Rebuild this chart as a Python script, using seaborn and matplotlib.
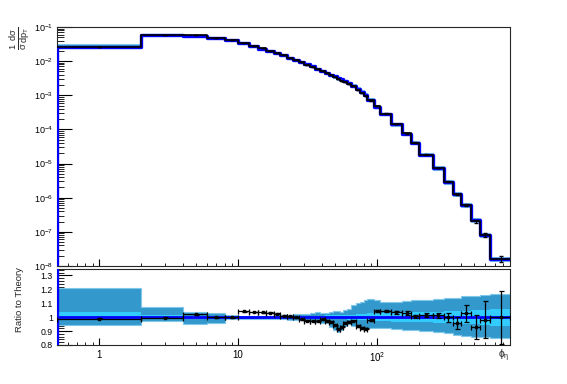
import numpy as np
import matplotlib
matplotlib.use("Agg")
import matplotlib.pyplot as plt
import matplotlib.ticker as mticker
import seaborn as sns

# Z pT binning (GeV); first bin starts at 0, shown from 0.5 on the log axis
pt_edges = [0, 2, 4, 6, 8, 10, 12, 14, 16, 18, 20, 22.5, 25, 27.5, 30, 33, 36, 39,
            42, 45, 48, 51, 54, 57, 61, 65, 70, 75, 80, 85, 95, 105, 125, 150, 175,
            200, 250, 300, 350, 400, 470, 550, 650, 900]

# theory prediction, 1/sigma dsigma/dpT
theory = [0.0265, 0.057, 0.056, 0.049, 0.041, 0.033, 0.027, 0.0232, 0.0198, 0.0170,
          0.0147, 0.0126, 0.0108, 0.0094, 0.0081, 0.0070, 0.0060, 0.0052, 0.0046,
          0.0040, 0.0036, 0.0032, 0.0029, 0.0026, 0.00225, 0.0019, 0.00155, 0.00125,
          0.00102, 0.00072, 0.00046, 0.00028, 0.00014, 7.4e-5, 4.1e-5, 1.8e-5,
          7.3e-6, 2.9e-6, 1.3e-6, 6.1e-7, 2.2e-7, 8.1e-8, 1.6e-8]

# data / theory
ratio = [0.988, 0.995, 1.02, 1.0, 1.0, 1.042, 1.037, 1.035, 1.032, 1.025, 1.012, 1.005,
         0.998, 0.985, 0.975, 0.973, 0.973, 0.985, 0.975, 0.968, 0.943, 0.918, 0.93,
         0.96, 0.968, 0.975, 0.936, 0.923, 0.918, 0.98, 1.047, 1.045, 1.035, 1.03,
         1.005, 1.015, 1.015, 1.0, 0.958, 1.027, 0.932, 0.983, 1.0]
ratio_err = [0.004, 0.003, 0.003, 0.003, 0.003, 0.003, 0.003, 0.003, 0.003, 0.003,
             0.003, 0.003, 0.003, 0.003, 0.003, 0.003, 0.003, 0.003, 0.003, 0.004,
             0.004, 0.004, 0.004, 0.004, 0.004, 0.004, 0.005, 0.005, 0.005, 0.006,
             0.007, 0.008, 0.009, 0.011, 0.013, 0.013, 0.018, 0.033, 0.04, 0.062,
             0.086, 0.133, 0.19]

# total theory uncertainty (outer band)
band_lo = [0.945, 0.97, 0.95, 0.955, 0.99, 0.99, 0.99, 0.99, 0.988, 0.985, 0.985, 0.982,
           0.98, 0.978, 0.975, 0.97, 0.965, 0.96, 0.955, 0.93, 0.91, 0.895, 0.91, 0.94,
           0.95, 0.94, 0.93, 0.925, 0.92, 0.92, 0.92, 0.92, 0.915, 0.91, 0.905, 0.9,
           0.89, 0.885, 0.875, 0.865, 0.86, 0.855, 0.85]
band_hi = [1.21, 1.07, 1.035, 1.03, 1.015, 1.012, 1.012, 1.012, 1.012, 1.015, 1.015,
           1.018, 1.02, 1.022, 1.025, 1.03, 1.035, 1.03, 1.03, 1.04, 1.045, 1.045, 1.04,
           1.05, 1.06, 1.09, 1.1, 1.11, 1.12, 1.13, 1.12, 1.11, 1.11, 1.115, 1.12,
           1.125, 1.13, 1.135, 1.14, 1.15, 1.155, 1.16, 1.17]
# inner uncertainty band
inner_lo = [0.985, 0.99, 0.99, 0.992, 0.993, 0.993, 0.993, 0.993, 0.993, 0.993, 0.992,
            0.992, 0.991, 0.99, 0.99, 0.989, 0.988, 0.988, 0.987, 0.986, 0.985, 0.985,
            0.985, 0.984, 0.983, 0.982, 0.98, 0.979, 0.977, 0.972, 0.97, 0.97, 0.968,
            0.966, 0.964, 0.962, 0.96, 0.958, 0.955, 0.952, 0.95, 0.945, 0.94]
inner_hi = [1.04, 1.015, 1.01, 1.008, 1.007, 1.007, 1.007, 1.007, 1.007, 1.007, 1.008,
            1.008, 1.009, 1.01, 1.01, 1.011, 1.012, 1.012, 1.013, 1.014, 1.015, 1.015,
            1.015, 1.016, 1.017, 1.018, 1.02, 1.021, 1.023, 1.028, 1.03, 1.03, 1.032,
            1.034, 1.036, 1.038, 1.04, 1.042, 1.045, 1.048, 1.05, 1.055, 1.06]

x_min, x_max = 0.5, 900
x_labels = ["1", "10", "$10^{2}$"]

sns.set_style("ticks")
plt.rcParams["font.family"] = ["Liberation Sans", "DejaVu Sans"]
plt.rcParams["mathtext.fontset"] = "custom"
plt.rcParams["mathtext.rm"] = "Liberation Sans"
plt.rcParams["mathtext.it"] = "Liberation Sans:italic"
plt.rcParams["mathtext.default"] = "regular"
plt.rcParams["axes.linewidth"] = 0.8

edges = np.array(pt_edges, dtype=float)
plot_edges = edges.copy()
plot_edges[0] = x_min
centers = (edges[:-1] + edges[1:]) / 2
theo = np.array(theory)
rat = np.array(ratio)
data = theo * rat
data_err = data * np.array(ratio_err)


def step(vals):
    return np.r_[vals, vals[-1]]


steel = "#3399cc"
steel_edge = "#80c8ea"
cyan = "#33ccff"
blue = "#0000ff"

fig = plt.figure(figsize=(5.67, 3.84), dpi=100)
ax1 = fig.add_axes([57 / 567, 1 - 266 / 384, 453 / 567, 239 / 384])
ax2 = fig.add_axes([57 / 567, 1 - 345 / 384, 453 / 567, 76.5 / 384])

# --- top panel: spectrum ---
ax1.fill_between(plot_edges, step(theo * np.array(band_lo)), step(theo * np.array(band_hi)),
                 step="post", color=steel, edgecolor=steel_edge, linewidth=0.8, zorder=1)
ax1.fill_between(plot_edges, step(theo * np.array(inner_lo)), step(theo * np.array(inner_hi)),
                 step="post", color=cyan, linewidth=0, zorder=2)
xs = np.r_[plot_edges[0], plot_edges]
sns.lineplot(x=xs, y=np.r_[1e-8, step(theo)], ax=ax1, sort=False, estimator=None,
             drawstyle="steps-post", color=blue, linewidth=2.4, zorder=3)
sns.lineplot(x=plot_edges, y=step(data), ax=ax1, sort=False, estimator=None,
             drawstyle="steps-post", color="black", linewidth=1.2, zorder=4)
ax1.errorbar(centers, data, yerr=data_err, fmt="none", ecolor="black",
             elinewidth=0.8, capsize=1.2, zorder=5)

ax1.set_xscale("log")
ax1.set_yscale("log")
ax1.set_xlim(x_min, x_max)
ax1.set_ylim(1e-8, 1e-1)
ax1.yaxis.set_major_locator(mticker.LogLocator(base=10, numticks=12))
ax1.yaxis.set_minor_locator(mticker.LogLocator(base=10, subs=np.arange(2, 10), numticks=12))
ax1.xaxis.set_minor_locator(mticker.LogLocator(base=10, subs=np.arange(2, 10), numticks=12))
ax1.tick_params(which="both", direction="in", top=False, right=False, colors="black")
ax1.tick_params(axis="y", which="major", length=10.5, width=0.8, labelsize=6.5, pad=3)
ax1.tick_params(axis="y", which="minor", length=5, width=0.6)
ax1.tick_params(axis="x", which="major", length=5, width=0.8, labelbottom=False)
ax1.tick_params(axis="x", which="minor", length=2.5, width=0.6)
ax1.set_xlabel("")
ax1.set_ylabel("")

# --- bottom panel: ratio ---
ax2.fill_between(plot_edges, step(np.array(band_lo)), step(np.array(band_hi)),
                 step="post", color=steel, edgecolor=steel_edge, linewidth=0.8, zorder=1)
ax2.fill_between(plot_edges, step(np.array(inner_lo)), step(np.array(inner_hi)),
                 step="post", color=cyan, linewidth=0, zorder=2)
sns.lineplot(x=plot_edges, y=step(theo / theo), ax=ax2, sort=False, estimator=None,
             drawstyle="steps-post", color=blue, linewidth=2.0, zorder=3)
ax2.axvline(x_min, color=blue, linewidth=2.4, zorder=3)
ax2.errorbar(centers, rat, xerr=[centers - plot_edges[:-1], plot_edges[1:] - centers],
             yerr=ratio_err, fmt="s", ms=2, color="black", ecolor="black",
             elinewidth=0.9, capsize=1.8, capthick=0.9, zorder=5)

ax2.set_xscale("log")
ax2.set_xlim(x_min, x_max)
ax2.set_ylim(0.8, 1.35)
ax2.set_xticks([1, 10, 100], labels=x_labels)
ax2.xaxis.set_minor_locator(mticker.LogLocator(base=10, subs=np.arange(2, 10), numticks=12))
ax2.xaxis.set_minor_formatter(mticker.NullFormatter())
ax2.yaxis.set_major_locator(mticker.MultipleLocator(0.1))
ax2.yaxis.set_minor_locator(mticker.MultipleLocator(0.02))
ax2.yaxis.set_major_formatter(mticker.FormatStrFormatter("%g"))
ax2.tick_params(which="both", direction="in", top=False, right=False, colors="black")
ax2.tick_params(axis="y", which="major", length=10.5, width=0.8, labelsize=6.3, pad=3)
ax2.tick_params(axis="y", which="minor", length=5, width=0.6)
ax2.tick_params(axis="x", which="major", length=5, width=0.8, labelsize=7, pad=3.5)
ax2.tick_params(axis="x", which="minor", length=2.5, width=0.6)
ax2.set_xlabel("")
ax2.set_ylabel("")

fig.text(21 / 567, 1 - 26 / 384, r"$\frac{1}{\sigma}\frac{d\sigma}{dp_{T}}$",
         rotation=90, ha="center", va="top", fontsize=9.5)
fig.text(20 / 567, 1 - 300 / 384, "Ratio to Theory", rotation=90,
         ha="center", va="center", fontsize=6.8)
fig.text(504 / 567, 1 - 356 / 384, r"$\phi_{\eta}$", ha="center", va="center", fontsize=7.5)

fig.savefig("out.png", dpi=100)
